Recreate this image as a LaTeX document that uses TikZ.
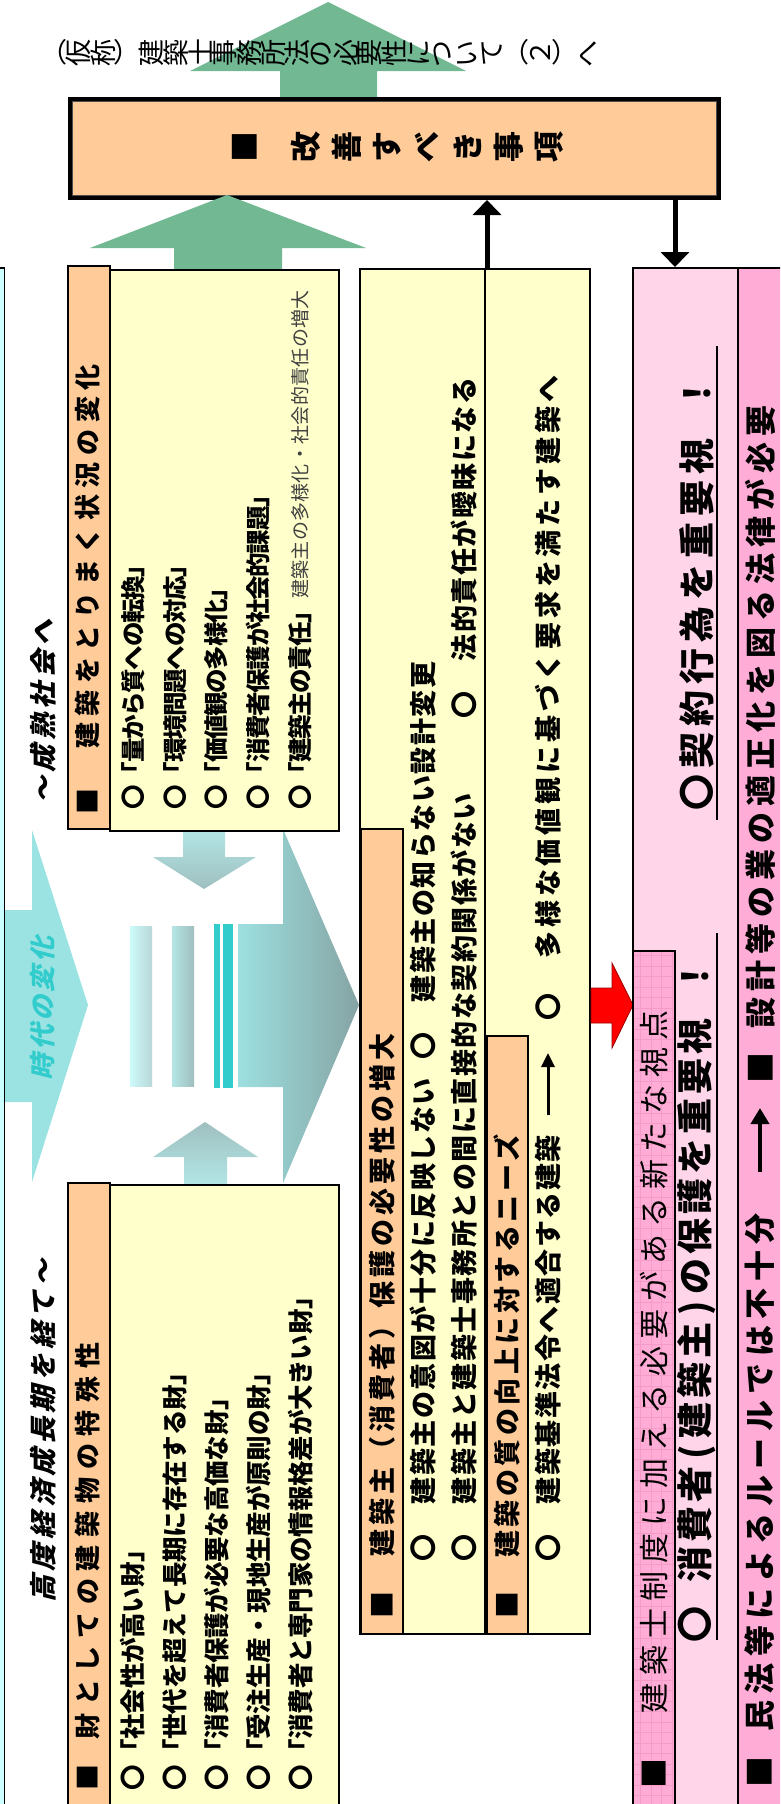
\documentclass[tikz,border=0pt]{standalone}
\usepackage{fontspec}
\usepackage{graphicx}
\usetikzlibrary{arrows.meta}
\newfontfamily\jp{Noto Sans CJK JP}
\newfontfamily\jpi{Noto Sans CJK JP}[FakeSlant=0.25]
\newcommand\fs[1]{\fontsize{#1}{#1}\selectfont}
\makeatletter
\newdimen\spcw
\newcommand\spc[2]{\spcw=#1\relax\spc@#2\relax}
\def\spc@#1{\ifx#1\relax\else\spc@@#1\expandafter\spc@\fi}
\def\spc@@#1{\ifx#1|\hspace*{0.5\spcw}\else\ifx#1(\makebox[0.6\spcw][c]{#1}\else\ifx#1)\makebox[0.6\spcw][c]{#1}\else\makebox[\spcw][c]{#1}\fi\fi\fi}
\newcommand\spcr[2]{\spcw=#1\relax\spcr@#2\relax}
\def\spcr@#1{\ifx#1\relax\else\ifx#1|\hspace*{0.5\spcw}\else\makebox[\spcw][c]{\rotatebox[origin=c]{90}{#1}}\fi\expandafter\spcr@\fi}
\makeatother
\definecolor{pch}{HTML}{FFCC99}
\definecolor{yel}{HTML}{FFFFCC}
\definecolor{lcy}{HTML}{CCFFFF}
\definecolor{lpk}{HTML}{FFD5EA}
\definecolor{dpk}{HTML}{FFADD6}
\definecolor{pgrid}{HTML}{F59BC8}
\definecolor{grn}{HTML}{72B893}
\definecolor{cya}{HTML}{9BE3E3}
\definecolor{tea}{HTML}{33CCCC}
\definecolor{ca1}{HTML}{B3E6E6}
\definecolor{ca2}{HTML}{9FBFBF}
\definecolor{b1l}{HTML}{CDFAFA}
\definecolor{b1r}{HTML}{B9D7D7}
\definecolor{b2l}{HTML}{B4E6E6}
\definecolor{b2r}{HTML}{A0BEBE}
\definecolor{bal}{HTML}{9DE0E0}
\definecolor{bar}{HTML}{86A3A3}
\begin{document}
\begin{tikzpicture}[x=1pt,y=1pt,
  bx/.style={draw=black, line width=1.6pt},
  t/.style={rotate=90, anchor=west, inner sep=0pt, outer sep=0pt},
  bd/.style={font=\jp\bfseries\fs{#1}},
  blk/.style={line width=5pt, -{Triangle[length=15pt,width=28pt]}},
]
\useasboundingbox (0,0) rectangle (780,-1804);
\clip (0,0) rectangle (780,-1804);
\fill[white] (0,0) rectangle (780,-1804);

% ---------- top part ----------
\fill[grn] (328,-2) -- (466,-71) -- (377,-71) -- (377,-98) -- (280,-98) -- (280,-71) -- (190,-71) -- cycle;
\node[anchor=west, inner sep=0pt, font=\jp\fs{27}] (ttl) at (42,-53)
  {\makebox[24.3pt]{（}\spcr{24.3pt}{仮称}\makebox[24.3pt]{）}\spcr{24.3pt}{建築士事務所法の必要性について}\makebox[24.3pt]{（}\spcr{24.3pt}{２}\makebox[24.3pt]{）}\spcr{24.3pt}{へ}};
\node[draw, line width=4.5pt, fill=pch, minimum width=649pt, minimum height=99pt, inner sep=0pt, anchor=north west] (kbox) at (67.5,-96.5) {};
\draw[line width=0.8pt, black!70] ([shift={(4.5,-4.5)}]kbox.north west) rectangle ([shift={(-4.5,4.5)}]kbox.south east);
\node[anchor=west, inner sep=0pt, bd=31] (kz) at (224.75,-147) {\spcr{40.5pt}{■|改善すべき事項}};
\fill[grn] (227,-195) -- (366,-248) -- (282,-248) -- (282,-270) -- (174,-270) -- (174,-248) -- (90,-248) -- cycle;

% ---------- middle graphics ----------
\fill[cya] (4,-910) -- (32,-910) -- (32,-830) -- (88,-1005) -- (32,-1182) -- (32,-1102) -- (4,-1102) -- cycle;
\draw[fill=lcy, line width=1.5pt] (-10,-268) rectangle (4.5,-1830);
\shade[top color=ca1, bottom color=ca2] (183,-829) -- (225,-829) -- (225,-857) -- (256,-857) -- (204,-889) -- (153,-857) -- (183,-857) -- cycle;
\shade[top color=ca2, bottom color=ca1] (184,-1185) -- (227,-1185) -- (227,-1157) -- (258,-1157) -- (205,-1122) -- (153,-1157) -- (184,-1157) -- cycle;
\shade[left color=b1l, right color=b1r] (130,-926) rectangle (152,-1086);
\shade[left color=b2l, right color=b2r] (172,-926) rectangle (194,-1086);
\fill[tea] (214,-924) rectangle (220,-1088);
\fill[tea] (223,-924) rectangle (233,-1088);
\shade[left color=bal, right color=bar] (238,-924) -- (283,-924) -- (283,-829) -- (359,-1005) -- (283,-1183) -- (283,-1087) -- (238,-1087) -- cycle;

% ---------- column 1 ----------
\draw[bx, fill=pch] (68,-266) rectangle (110,-829);
\draw[bx, fill=yel] (110,-270) rectangle (339,-831);
\draw[bx, fill=pch] (68,-1183) rectangle (110,-1830);
\draw[bx, fill=yel] (110,-1185) rectangle (339,-1830);

% ---------- column 2 ----------
\draw[bx, fill=yel] (360,-269) rectangle (485,-1634);
\draw[bx, fill=yel] (485,-269) rectangle (590,-1634);
\draw[bx, fill=pch] (361,-829) rectangle (403,-1634);
\draw[bx, fill=pch] (487,-1036) rectangle (528,-1634);

% ---------- red arrow ----------
\draw[fill=red, draw=red!60!black, line width=0.8pt] (591,-988) -- (612,-988) -- (612,-963) -- (633,-1005) -- (612,-1048) -- (612,-1023) -- (591,-1023) -- cycle;

% ---------- pink column ----------
\draw[bx, fill=lpk] (633,-268) rectangle (738,-1830);
\fill[dpk] (633,-951) rectangle (675,-1830);
\begin{scope}
\clip (633,-951) rectangle (675,-1830);
\draw[pgrid, line width=0.4pt] (630,-1830) grid[step=10.5] (680,-945);
\end{scope}
\draw[bx] (633,-951) rectangle (675,-1830);
\draw[bx, fill=dpk] (738,-268) rectangle (800,-1830);

% ---------- connectors ----------
\coordinate (c2top) at (487,-269);
\coordinate (pktop) at (675,-267);
\draw[blk] (c2top) -- (c2top |- kbox.south);
\draw[blk] (pktop |- kbox.south) -- (pktop);

% ---------- texts column 1 ----------
\node[t, font=\jpi\bfseries\fs{27}] (t0) at (43,-806) {\spc{31.5pt}{～成熟社会へ}};
\node[t, bd=26] (h1) at (88,-817.3) {\spc{32.6pt}{■　建築をとりまく状況の変化}};
\node[t, bd=24.5] (i1) at (133,-808.6) {\spc{23.2pt}{〇「量から質への転換」}};
\node[t, bd=24.5] (i2) at (175,-808.6) {\spc{23.2pt}{〇「環境問題への対応」}};
\node[t, bd=24.5] (i3) at (216,-808.6) {\spc{23.2pt}{〇「価値観の多様化」}};
\node[t, bd=24.5] (i4) at (258,-808.6) {\spc{23.2pt}{〇「消費者保護が社会的課題」}};
\node[t, bd=24.5] (i5) at (300,-808.6) {\spc{23.2pt}{〇「建築主の責任」}};
\node[t, font=\jp\fs{19}, text=black!75] (s1) at (300,-599) {\spc{19.3pt}{建築主の多様化・社会的責任の増大}};

\node[t, font=\jpi\bfseries\fs{27}] (t1) at (43,-1605) {\spc{31.6pt}{高度経済成長期を経て～}};
\node[t, font=\jpi\bfseries\fs{26}, text=tea] (t2) at (43,-1082) {\spc{29.4pt}{時代の変化}};
\node[t, bd=26] (h2) at (88,-1793.9) {\spc{33.7pt}{■|財としての建築物の特殊性}};
\node[t, bd=25.5] (j1) at (133,-1790) {\spc{25.3pt}{〇「社会性が高い財」}};
\node[t, bd=25.5] (j2) at (175,-1790) {\spc{25.3pt}{〇「世代を超えて長期に存在する財」}};
\node[t, bd=25.5] (j3) at (217,-1790) {\spc{25.3pt}{〇「消費者保護が必要な高価な財」}};
\node[t, bd=25.5] (j4) at (259,-1790) {\spc{25.3pt}{〇「受注生産・現地生産が原則の財」}};
\node[t, bd=25.5] (j5) at (301,-1790) {\spc{25.3pt}{〇「消費者と専門家の情報格差が大きい財」}};

% ---------- texts column 2 ----------
\node[t, bd=27] (h3) at (382,-1620.5) {\spc{31pt}{■　建築主（消費者）保護の必要性の増大}};
\node[t, bd=27] (k1) at (423,-1562) {\spc{28.5pt}{〇　建築主の意図が十分に反映しない}};
\node[t, bd=27] (k2) at (423,-1060) {\spc{28.5pt}{〇　建築主の知らない設計変更}};
\node[t, bd=27] (k3) at (464,-1562) {\spc{28.5pt}{〇　建築主と建築士事務所との間に直接的な契約関係がない}};
\node[t, bd=27] (k4) at (464,-719) {\spc{28.5pt}{〇　法的責任が曖昧になる}};
\node[t, bd=27] (h4) at (507,-1620.5) {\spc{30.5pt}{■　建築の質の向上に対するニーズ}};
\node[t, bd=27] (k5) at (548,-1562) {\spc{28.5pt}{〇　建築基準法令へ適合する建築}};
\node[t, bd=27] (k6) at (548,-1022.5) {\spc{30.9pt}{〇　多様な価値観に基づく要求を満たす建築へ}};
\coordinate (a1s) at (548,-1115);
\coordinate (a1e) at (548,-1053);
\draw[line width=3pt, -{Triangle[length=14pt,width=13pt]}] (a1s) -- (a1e);

% ---------- texts pink ----------
\node[t, font=\jp\fs{30}] (p1) at (654,-1791.7) {\spc{37.4pt}{■　建築士制度に加える必要がある新たな視点}};
\node[t, bd=36] (p2) at (697,-1644) {\spc{40pt}{〇|消費者(建築主)の保護を重要視|！}};
\node[t, bd=36] (p3) at (697,-813) {\spc{42pt}{〇契約行為を重要視|！}};
\draw[line width=2.5pt] (717,-1640) -- (717,-933);
\draw[line width=2.5pt] (717,-820) -- (717,-346);
\node[t, bd=31] (p4) at (760,-1791) {\spc{37.5pt}{■|民法等によるルールでは不十分}};
\node[t, bd=31] (p5) at (760,-1086.5) {\spc{37pt}{■|設計等の業の適正化を図る法律が必要}};
\coordinate (a2s) at (760,-1172);
\coordinate (a2e) at (760,-1108);
\draw[line width=4pt, -{Triangle[length=16pt,width=18pt]}] (a2s) -- (a2e);
\end{tikzpicture}
\end{document}
